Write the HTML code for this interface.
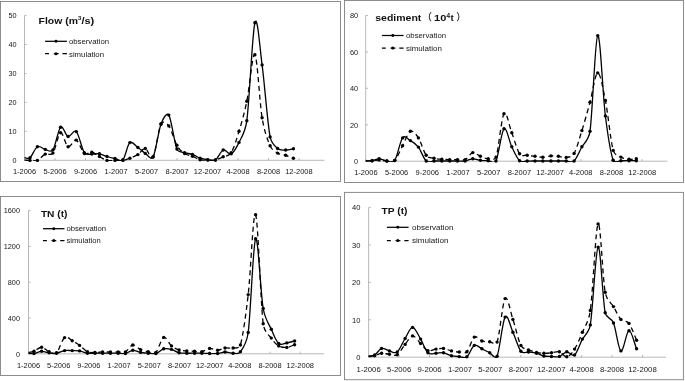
<!DOCTYPE html>
<html><head><meta charset="utf-8"><title>chart</title>
<style>
html,body{margin:0;padding:0;background:#fff}
svg{display:block}
text{font-family:"Liberation Sans","Noto Sans CJK SC",sans-serif;fill:#222}
.ax{font-size:7.9px;fill:#161616}
.lg{font-size:7.7px;fill:#161616}
.tt{font-size:9.7px;font-weight:bold;fill:#111}
.b{fill:#fff;stroke:#878787;stroke-width:0.95}
.a{stroke:#a6a6a6;stroke-width:0.8;fill:none}
.o{stroke:#000;stroke-width:1.3;fill:none;stroke-linejoin:round}
.s{stroke:#000;stroke-width:1.3;fill:none;stroke-dasharray:5 3.7;stroke-linejoin:round}
.m{fill:#000}
</style></head><body>
<svg width="685" height="381" viewBox="0 0 685 381">
<rect width="685" height="381" fill="#fff"/>
<g id="TL">
<rect class="b" x="0.5" y="1.5" width="340.0" height="180.0"/>
<path class="a" d="M24.5 15.6 V160.3 M24.5 160.3 H324.5M24.5 160.3 h2.2M24.5 131.4 h2.2M24.5 102.4 h2.2M24.5 73.5 h2.2M24.5 44.5 h2.2M24.5 15.6 h2.2M24.5 160.3 v-2.2M55.0 160.3 v-2.2M85.5 160.3 v-2.2M116.0 160.3 v-2.2M146.5 160.3 v-2.2M177.0 160.3 v-2.2M207.5 160.3 v-2.2M238.0 160.3 v-2.2M268.5 160.3 v-2.2M299.0 160.3 v-2.2"/>
<text class="ax" x="12.6" y="163.4" textLength="4.0" lengthAdjust="spacingAndGlyphs">0</text>
<text class="ax" x="8.5" y="134.3" textLength="8.1" lengthAdjust="spacingAndGlyphs">10</text>
<text class="ax" x="8.5" y="105.2" textLength="8.1" lengthAdjust="spacingAndGlyphs">20</text>
<text class="ax" x="8.5" y="76.2" textLength="8.1" lengthAdjust="spacingAndGlyphs">30</text>
<text class="ax" x="8.5" y="47.1" textLength="8.1" lengthAdjust="spacingAndGlyphs">40</text>
<text class="ax" x="8.5" y="18.0" textLength="8.1" lengthAdjust="spacingAndGlyphs">50</text>
<text class="ax" x="12.9" y="174.3" textLength="23.2" lengthAdjust="spacingAndGlyphs">1-2006</text>
<text class="ax" x="43.4" y="174.3" textLength="23.2" lengthAdjust="spacingAndGlyphs">5-2006</text>
<text class="ax" x="73.9" y="174.3" textLength="23.2" lengthAdjust="spacingAndGlyphs">9-2006</text>
<text class="ax" x="104.4" y="174.3" textLength="23.2" lengthAdjust="spacingAndGlyphs">1-2007</text>
<text class="ax" x="134.9" y="174.3" textLength="23.2" lengthAdjust="spacingAndGlyphs">5-2007</text>
<text class="ax" x="165.4" y="174.3" textLength="23.2" lengthAdjust="spacingAndGlyphs">8-2007</text>
<text class="ax" x="193.8" y="174.3" textLength="27.5" lengthAdjust="spacingAndGlyphs">12-2007</text>
<text class="ax" x="226.4" y="174.3" textLength="23.2" lengthAdjust="spacingAndGlyphs">4-2008</text>
<text class="ax" x="256.9" y="174.3" textLength="23.2" lengthAdjust="spacingAndGlyphs">8-2008</text>
<text class="ax" x="285.2" y="174.3" textLength="27.5" lengthAdjust="spacingAndGlyphs">12-2008</text>
<clipPath id="cTL"><rect x="24.0" y="7.6" width="300.0" height="153.5"/></clipPath>
<path class="s" clip-path="url(#cTL)" d="M24.5 160.2C26.3 160.3 27.9 160.4 30.0 160.4C32.1 160.4 34.9 161.5 37.4 160.4C39.9 159.3 42.7 155.3 45.3 154.1C47.6 153.0 50.7 156.2 52.9 153.1C55.5 149.6 58.1 133.9 60.6 132.8C63.1 131.8 65.5 145.6 68.1 146.8C70.7 148.0 73.6 139.0 76.3 140.1C79.0 141.2 81.7 151.5 84.3 153.5C86.9 155.5 89.3 151.7 91.8 152.2C94.3 152.7 96.9 155.1 99.4 156.5C101.9 157.9 104.4 159.8 107.0 160.4C109.6 161.1 112.3 160.4 115.0 160.4C117.7 160.4 120.4 160.8 122.9 160.4C125.4 160.0 127.4 159.2 129.9 158.2C132.4 157.2 135.3 156.2 137.9 154.6C140.5 153.0 142.8 148.1 145.3 148.5C147.8 148.9 150.5 160.9 153.1 156.8C155.7 152.7 158.4 129.2 161.0 124.0C162.8 120.4 166.4 122.7 168.8 125.9C171.5 129.5 174.3 140.7 176.9 145.3C179.5 149.9 182.0 151.7 184.6 153.5C187.2 155.3 189.8 155.3 192.4 156.3C195.0 157.3 197.5 159.1 200.1 159.7C202.7 160.3 205.2 159.9 207.8 160.0C210.4 160.1 212.8 160.5 215.4 160.0C218.0 159.5 220.6 158.0 223.2 156.8C225.6 155.7 228.8 156.4 231.2 152.6C233.8 148.3 236.4 139.9 239.0 131.3C241.6 122.7 244.2 114.0 246.8 101.2C249.5 88.5 252.3 52.0 254.9 54.8C257.4 57.5 259.6 102.6 262.1 117.7C264.5 132.1 267.7 140.1 270.1 145.7C272.2 150.5 275.5 151.8 277.6 153.1C280.2 154.7 283.1 154.5 285.7 155.3C288.3 156.2 290.8 157.2 293.4 158.2"/>
<g class="m"><circle cx="30.0" cy="160.4" r="1.7"/><circle cx="37.4" cy="160.4" r="1.7"/><circle cx="45.3" cy="154.1" r="1.7"/><circle cx="52.9" cy="153.1" r="1.7"/><circle cx="60.6" cy="132.8" r="1.7"/><circle cx="68.1" cy="146.8" r="1.7"/><circle cx="76.3" cy="140.1" r="1.7"/><circle cx="84.3" cy="153.5" r="1.7"/><circle cx="91.8" cy="152.2" r="1.7"/><circle cx="99.4" cy="156.5" r="1.7"/><circle cx="107.0" cy="160.4" r="1.7"/><circle cx="115.0" cy="160.4" r="1.7"/><circle cx="122.9" cy="160.4" r="1.7"/><circle cx="129.9" cy="158.2" r="1.7"/><circle cx="137.9" cy="154.6" r="1.7"/><circle cx="145.3" cy="148.5" r="1.7"/><circle cx="153.1" cy="156.8" r="1.7"/><circle cx="161.0" cy="124.0" r="1.7"/><circle cx="168.8" cy="125.9" r="1.7"/><circle cx="176.9" cy="145.3" r="1.7"/><circle cx="184.6" cy="153.5" r="1.7"/><circle cx="192.4" cy="156.3" r="1.7"/><circle cx="200.1" cy="159.7" r="1.7"/><circle cx="207.8" cy="160.0" r="1.7"/><circle cx="215.4" cy="160.0" r="1.7"/><circle cx="223.2" cy="156.8" r="1.7"/><circle cx="231.2" cy="152.6" r="1.7"/><circle cx="239.0" cy="131.3" r="1.7"/><circle cx="246.8" cy="101.2" r="1.7"/><circle cx="254.9" cy="54.8" r="1.7"/><circle cx="262.1" cy="117.7" r="1.7"/><circle cx="270.1" cy="145.7" r="1.7"/><circle cx="277.6" cy="153.1" r="1.7"/><circle cx="285.7" cy="155.3" r="1.7"/><circle cx="293.4" cy="158.2" r="1.7"/></g>
<path class="o" clip-path="url(#cTL)" d="M24.5 157.6C25.4 157.6 27.9 159.6 30.0 157.8C32.1 156.0 34.9 148.1 37.4 146.7C39.9 145.3 42.7 148.8 45.3 149.4C47.5 149.9 50.7 153.1 52.9 150.0C55.5 146.3 58.1 129.4 60.6 127.2C63.1 125.0 65.5 135.8 68.1 136.5C70.7 137.2 73.6 128.9 76.3 131.6C79.0 134.3 81.7 148.8 84.3 152.6C86.5 155.7 89.7 153.9 91.8 154.1C94.3 154.3 96.9 153.4 99.4 153.8C101.9 154.2 104.4 155.7 107.0 156.5C109.6 157.3 112.3 158.0 115.0 158.5C117.7 159.0 120.4 162.3 122.9 159.7C125.4 157.0 127.4 144.6 129.9 142.6C132.4 140.6 135.3 145.7 137.9 147.5C140.5 149.3 142.8 151.8 145.3 153.4C147.3 154.6 151.1 160.8 153.1 157.0C155.7 152.1 158.4 131.0 161.0 124.0C163.1 118.5 166.7 111.8 168.8 115.1C171.5 119.3 174.3 142.8 176.9 149.0C178.6 152.9 183.0 152.0 184.6 152.6C187.2 153.5 189.8 153.5 192.4 154.4C195.0 155.3 197.5 157.3 200.1 158.2C202.7 159.1 205.2 159.4 207.8 159.7C210.4 160.0 212.8 161.6 215.4 160.0C218.0 158.4 220.6 151.0 223.2 150.0C225.8 149.0 228.6 155.1 231.2 153.8C233.8 152.5 236.4 147.9 239.0 142.4C240.5 139.3 245.3 132.2 246.8 120.8C249.5 100.9 252.3 32.1 254.9 22.8C257.4 13.5 259.6 45.9 262.1 64.9C264.6 83.9 267.5 123.0 270.1 136.9C271.4 143.7 276.3 147.4 277.6 148.5C280.2 150.7 283.1 149.9 285.7 150.0C288.3 150.1 290.8 149.2 293.4 148.8"/>
<g class="m"><circle cx="30.0" cy="157.8" r="1.7"/><circle cx="37.4" cy="146.7" r="1.7"/><circle cx="45.3" cy="149.4" r="1.7"/><circle cx="52.9" cy="150.0" r="1.7"/><circle cx="60.6" cy="127.2" r="1.7"/><circle cx="68.1" cy="136.5" r="1.7"/><circle cx="76.3" cy="131.6" r="1.7"/><circle cx="84.3" cy="152.6" r="1.7"/><circle cx="91.8" cy="154.1" r="1.7"/><circle cx="99.4" cy="153.8" r="1.7"/><circle cx="107.0" cy="156.5" r="1.7"/><circle cx="115.0" cy="158.5" r="1.7"/><circle cx="122.9" cy="159.7" r="1.7"/><circle cx="129.9" cy="142.6" r="1.7"/><circle cx="137.9" cy="147.5" r="1.7"/><circle cx="145.3" cy="153.4" r="1.7"/><circle cx="153.1" cy="157.0" r="1.7"/><circle cx="161.0" cy="124.0" r="1.7"/><circle cx="168.8" cy="115.1" r="1.7"/><circle cx="176.9" cy="149.0" r="1.7"/><circle cx="184.6" cy="152.6" r="1.7"/><circle cx="192.4" cy="154.4" r="1.7"/><circle cx="200.1" cy="158.2" r="1.7"/><circle cx="207.8" cy="159.7" r="1.7"/><circle cx="215.4" cy="160.0" r="1.7"/><circle cx="223.2" cy="150.0" r="1.7"/><circle cx="231.2" cy="153.8" r="1.7"/><circle cx="239.0" cy="142.4" r="1.7"/><circle cx="246.8" cy="120.8" r="1.7"/><circle cx="254.9" cy="22.8" r="1.7"/><circle cx="262.1" cy="64.9" r="1.7"/><circle cx="270.1" cy="136.9" r="1.7"/><circle cx="277.6" cy="148.5" r="1.7"/><circle cx="285.7" cy="150.0" r="1.7"/><circle cx="293.4" cy="148.8" r="1.7"/></g>
</g>
<g id="TR">
<rect class="b" x="344.5" y="0.5" width="339.0" height="182.0"/>
<path class="a" d="M365.7 15.5 V161.2 M365.7 161.2 H667.6M365.7 161.2 h2.2M365.7 124.8 h2.2M365.7 88.3 h2.2M365.7 51.9 h2.2M365.7 15.5 h2.2M365.9 161.2 v-2.2M396.6 161.2 v-2.2M427.3 161.2 v-2.2M458.0 161.2 v-2.2M488.7 161.2 v-2.2M519.4 161.2 v-2.2M550.1 161.2 v-2.2M580.8 161.2 v-2.2M611.5 161.2 v-2.2M642.2 161.2 v-2.2"/>
<text class="ax" x="354.1" y="164.2" textLength="4.0" lengthAdjust="spacingAndGlyphs">0</text>
<text class="ax" x="349.9" y="127.7" textLength="8.2" lengthAdjust="spacingAndGlyphs">20</text>
<text class="ax" x="349.9" y="91.1" textLength="8.2" lengthAdjust="spacingAndGlyphs">40</text>
<text class="ax" x="349.9" y="54.5" textLength="8.2" lengthAdjust="spacingAndGlyphs">60</text>
<text class="ax" x="349.9" y="17.9" textLength="8.2" lengthAdjust="spacingAndGlyphs">80</text>
<text class="ax" x="354.2" y="174.7" textLength="23.4" lengthAdjust="spacingAndGlyphs">1-2006</text>
<text class="ax" x="384.9" y="174.7" textLength="23.4" lengthAdjust="spacingAndGlyphs">5-2006</text>
<text class="ax" x="415.6" y="174.7" textLength="23.4" lengthAdjust="spacingAndGlyphs">9-2006</text>
<text class="ax" x="446.3" y="174.7" textLength="23.4" lengthAdjust="spacingAndGlyphs">1-2007</text>
<text class="ax" x="477.0" y="174.7" textLength="23.4" lengthAdjust="spacingAndGlyphs">5-2007</text>
<text class="ax" x="507.7" y="174.7" textLength="23.4" lengthAdjust="spacingAndGlyphs">8-2007</text>
<text class="ax" x="536.2" y="174.7" textLength="27.8" lengthAdjust="spacingAndGlyphs">12-2007</text>
<text class="ax" x="569.1" y="174.7" textLength="23.4" lengthAdjust="spacingAndGlyphs">4-2008</text>
<text class="ax" x="599.8" y="174.7" textLength="23.4" lengthAdjust="spacingAndGlyphs">8-2008</text>
<text class="ax" x="628.3" y="174.7" textLength="27.8" lengthAdjust="spacingAndGlyphs">12-2008</text>
<clipPath id="cTR"><rect x="365.2" y="7.5" width="301.9" height="154.4"/></clipPath>
<path class="s" clip-path="url(#cTR)" d="M365.7 161.0C367.8 160.9 369.9 160.9 372.1 160.7C374.3 160.5 376.6 159.9 379.1 160.0C381.6 160.1 384.3 160.9 386.9 161.0C389.5 161.1 392.1 163.1 394.7 160.5C397.3 157.9 400.0 150.6 402.6 145.7C405.2 140.8 407.8 132.6 410.4 131.3C413.0 130.0 415.8 133.9 418.4 137.9C421.0 141.9 423.6 151.9 426.2 155.3C428.7 158.6 431.5 157.5 434.0 158.2C436.6 158.9 439.2 159.1 441.8 159.3C444.4 159.5 447.1 159.6 449.7 159.6C452.3 159.6 454.8 159.6 457.4 159.6C460.0 159.6 462.5 160.8 465.1 159.6C467.7 158.4 470.2 153.1 472.8 152.6C475.4 152.1 477.8 155.3 480.4 156.3C483.0 157.3 485.6 158.7 488.2 158.8C489.5 158.9 494.7 160.9 496.0 157.1C498.6 149.6 501.4 117.8 504.0 113.7C506.6 109.7 509.2 126.1 511.8 132.8C514.4 139.5 517.0 150.1 519.6 153.8C521.8 157.0 525.0 154.9 527.2 155.3C529.8 155.7 532.4 156.0 535.0 156.3C537.6 156.6 540.1 157.3 542.8 157.2C545.5 157.1 548.4 156.1 551.0 155.9C553.6 155.8 555.9 156.1 558.4 156.3C560.9 156.6 563.6 157.9 566.2 157.4C568.4 157.0 571.9 157.2 574.1 153.4C576.7 148.9 579.2 139.1 581.9 130.6C584.5 122.1 587.4 111.9 590.0 102.3C592.6 92.7 595.1 73.2 597.7 72.9C600.3 72.6 602.8 87.6 605.4 100.5C608.0 113.4 610.6 141.0 613.2 150.4C614.5 155.3 619.5 156.3 620.9 157.1C623.5 158.6 626.4 159.0 629.0 159.3C631.6 159.6 633.9 159.0 636.3 158.8"/>
<g class="m"><circle cx="372.1" cy="160.7" r="1.7"/><circle cx="379.1" cy="160.0" r="1.7"/><circle cx="386.9" cy="161.0" r="1.7"/><circle cx="394.7" cy="160.5" r="1.7"/><circle cx="402.6" cy="145.7" r="1.7"/><circle cx="410.4" cy="131.3" r="1.7"/><circle cx="418.4" cy="137.9" r="1.7"/><circle cx="426.2" cy="155.3" r="1.7"/><circle cx="434.0" cy="158.2" r="1.7"/><circle cx="441.8" cy="159.3" r="1.7"/><circle cx="449.7" cy="159.6" r="1.7"/><circle cx="457.4" cy="159.6" r="1.7"/><circle cx="465.1" cy="159.6" r="1.7"/><circle cx="472.8" cy="152.6" r="1.7"/><circle cx="480.4" cy="156.3" r="1.7"/><circle cx="488.2" cy="158.8" r="1.7"/><circle cx="496.0" cy="157.1" r="1.7"/><circle cx="504.0" cy="113.7" r="1.7"/><circle cx="511.8" cy="132.8" r="1.7"/><circle cx="519.6" cy="153.8" r="1.7"/><circle cx="527.2" cy="155.3" r="1.7"/><circle cx="535.0" cy="156.3" r="1.7"/><circle cx="542.8" cy="157.2" r="1.7"/><circle cx="551.0" cy="155.9" r="1.7"/><circle cx="558.4" cy="156.3" r="1.7"/><circle cx="566.2" cy="157.4" r="1.7"/><circle cx="574.1" cy="153.4" r="1.7"/><circle cx="581.9" cy="130.6" r="1.7"/><circle cx="590.0" cy="102.3" r="1.7"/><circle cx="597.7" cy="72.9" r="1.7"/><circle cx="605.4" cy="100.5" r="1.7"/><circle cx="613.2" cy="150.4" r="1.7"/><circle cx="620.9" cy="157.1" r="1.7"/><circle cx="629.0" cy="159.3" r="1.7"/><circle cx="636.3" cy="158.8" r="1.7"/></g>
<path class="o" clip-path="url(#cTR)" d="M365.7 161.0C367.8 160.9 369.9 161.1 372.1 160.7C374.3 160.3 376.6 158.8 379.1 158.8C381.6 158.9 384.3 160.7 386.9 161.0C389.1 161.2 392.5 163.7 394.7 160.5C397.3 156.7 400.0 141.2 402.6 137.9C405.2 134.7 407.8 139.1 410.4 140.6C413.0 142.1 415.8 143.7 418.4 147.1C421.0 150.5 423.6 158.7 426.2 161.0C428.8 163.3 431.4 161.0 434.0 161.0C436.6 161.0 439.2 161.0 441.8 161.0C444.4 161.0 447.1 161.0 449.7 161.0C452.3 161.0 454.8 161.0 457.4 161.0C460.0 161.0 462.5 161.4 465.1 161.0C467.7 160.6 470.2 158.9 472.8 158.8C475.4 158.7 477.8 160.0 480.4 160.3C483.0 160.6 485.6 160.6 488.2 160.7C489.9 160.8 494.3 164.5 496.0 161.0C498.6 155.7 501.4 131.2 504.0 128.8C506.6 126.4 509.2 141.5 511.8 146.8C514.4 152.1 517.0 158.3 519.6 160.7C522.2 163.1 524.6 160.9 527.2 161.0C529.8 161.1 532.4 161.0 535.0 161.0C537.6 161.0 540.1 161.0 542.8 161.0C545.5 161.0 548.4 161.0 551.0 161.0C553.6 161.0 555.9 161.0 558.4 161.0C560.9 161.0 563.6 161.0 566.2 161.0C568.8 161.0 571.5 163.4 574.1 161.0C576.7 158.6 579.2 151.8 581.9 146.8C583.1 144.5 588.8 140.0 590.0 131.3C592.6 112.8 595.1 38.2 597.7 35.6C600.3 33.0 602.8 95.2 605.4 116.0C608.0 136.8 610.6 152.9 613.2 160.3C614.5 163.9 619.6 160.7 620.9 160.7C623.5 160.8 626.4 160.7 629.0 160.7C631.6 160.7 633.9 160.7 636.3 160.7"/>
<g class="m"><circle cx="372.1" cy="160.7" r="1.7"/><circle cx="379.1" cy="158.8" r="1.7"/><circle cx="386.9" cy="161.0" r="1.7"/><circle cx="394.7" cy="160.5" r="1.7"/><circle cx="402.6" cy="137.9" r="1.7"/><circle cx="410.4" cy="140.6" r="1.7"/><circle cx="418.4" cy="147.1" r="1.7"/><circle cx="426.2" cy="161.0" r="1.7"/><circle cx="434.0" cy="161.0" r="1.7"/><circle cx="441.8" cy="161.0" r="1.7"/><circle cx="449.7" cy="161.0" r="1.7"/><circle cx="457.4" cy="161.0" r="1.7"/><circle cx="465.1" cy="161.0" r="1.7"/><circle cx="472.8" cy="158.8" r="1.7"/><circle cx="480.4" cy="160.3" r="1.7"/><circle cx="488.2" cy="160.7" r="1.7"/><circle cx="496.0" cy="161.0" r="1.7"/><circle cx="504.0" cy="128.8" r="1.7"/><circle cx="511.8" cy="146.8" r="1.7"/><circle cx="519.6" cy="160.7" r="1.7"/><circle cx="527.2" cy="161.0" r="1.7"/><circle cx="535.0" cy="161.0" r="1.7"/><circle cx="542.8" cy="161.0" r="1.7"/><circle cx="551.0" cy="161.0" r="1.7"/><circle cx="558.4" cy="161.0" r="1.7"/><circle cx="566.2" cy="161.0" r="1.7"/><circle cx="574.1" cy="161.0" r="1.7"/><circle cx="581.9" cy="146.8" r="1.7"/><circle cx="590.0" cy="131.3" r="1.7"/><circle cx="597.7" cy="35.6" r="1.7"/><circle cx="605.4" cy="116.0" r="1.7"/><circle cx="613.2" cy="160.3" r="1.7"/><circle cx="620.9" cy="160.7" r="1.7"/><circle cx="629.0" cy="160.7" r="1.7"/><circle cx="636.3" cy="160.7" r="1.7"/></g>
</g>
<g id="BL">
<rect class="b" x="0.5" y="196.5" width="340.0" height="179.0"/>
<path class="a" d="M28.5 210.6 V353.8 M28.5 353.8 H324.0M28.5 353.8 h2.2M28.5 318.0 h2.2M28.5 282.2 h2.2M28.5 246.4 h2.2M28.5 210.6 h2.2M28.5 353.8 v-2.2M58.7 353.8 v-2.2M88.9 353.8 v-2.2M119.1 353.8 v-2.2M149.3 353.8 v-2.2M179.5 353.8 v-2.2M209.6 353.8 v-2.2M239.8 353.8 v-2.2M270.0 353.8 v-2.2M300.2 353.8 v-2.2"/>
<text class="ax" x="16.0" y="356.9" textLength="4.0" lengthAdjust="spacingAndGlyphs">0</text>
<text class="ax" x="7.8" y="320.9" textLength="12.2" lengthAdjust="spacingAndGlyphs">400</text>
<text class="ax" x="7.8" y="284.9" textLength="12.2" lengthAdjust="spacingAndGlyphs">800</text>
<text class="ax" x="3.7" y="249.0" textLength="16.3" lengthAdjust="spacingAndGlyphs">1200</text>
<text class="ax" x="3.7" y="213.1" textLength="16.3" lengthAdjust="spacingAndGlyphs">1600</text>
<text class="ax" x="16.9" y="368.0" textLength="23.2" lengthAdjust="spacingAndGlyphs">1-2006</text>
<text class="ax" x="47.1" y="368.0" textLength="23.2" lengthAdjust="spacingAndGlyphs">5-2006</text>
<text class="ax" x="77.3" y="368.0" textLength="23.2" lengthAdjust="spacingAndGlyphs">9-2006</text>
<text class="ax" x="107.5" y="368.0" textLength="23.2" lengthAdjust="spacingAndGlyphs">1-2007</text>
<text class="ax" x="137.7" y="368.0" textLength="23.2" lengthAdjust="spacingAndGlyphs">5-2007</text>
<text class="ax" x="167.9" y="368.0" textLength="23.2" lengthAdjust="spacingAndGlyphs">8-2007</text>
<text class="ax" x="195.9" y="368.0" textLength="27.5" lengthAdjust="spacingAndGlyphs">12-2007</text>
<text class="ax" x="228.2" y="368.0" textLength="23.2" lengthAdjust="spacingAndGlyphs">4-2008</text>
<text class="ax" x="258.4" y="368.0" textLength="23.2" lengthAdjust="spacingAndGlyphs">8-2008</text>
<text class="ax" x="286.5" y="368.0" textLength="27.5" lengthAdjust="spacingAndGlyphs">12-2008</text>
<clipPath id="cBL"><rect x="28.0" y="202.6" width="295.5" height="152.0"/></clipPath>
<path class="s" clip-path="url(#cBL)" d="M28.5 352.5C30.3 352.1 31.8 352.2 34.0 351.3C36.2 350.4 39.1 347.1 41.6 347.2C44.1 347.3 46.6 350.9 49.1 351.8C51.6 352.7 53.9 355.2 56.5 352.8C59.1 350.4 62.0 339.6 64.6 337.6C67.2 335.6 69.7 339.4 72.2 340.7C74.7 342.0 77.1 343.5 79.6 345.4C82.1 347.2 84.8 350.6 87.4 351.8C90.0 353.0 92.5 352.4 95.0 352.4C97.5 352.4 100.0 352.1 102.6 352.0C105.2 351.9 107.8 352.0 110.4 352.0C113.0 352.0 115.7 352.0 118.2 352.0C120.7 352.0 123.0 353.2 125.4 352.0C127.8 350.8 130.3 345.4 132.8 345.0C135.3 344.6 138.0 348.5 140.6 349.6C143.2 350.7 145.6 351.3 148.2 351.8C150.8 352.3 153.3 354.8 155.9 352.4C158.5 350.0 161.1 338.5 163.7 337.4C166.3 336.3 168.9 343.8 171.5 345.9C174.1 348.0 176.5 349.1 179.1 349.9C181.7 350.7 184.2 350.7 186.8 350.9C189.4 351.1 192.1 351.1 194.6 351.3C197.1 351.5 199.4 352.3 201.9 351.8C204.4 351.3 207.0 348.6 209.6 348.4C212.2 348.1 215.0 350.4 217.6 350.3C220.2 350.2 222.4 348.4 225.0 348.0C227.6 347.6 230.5 348.5 233.1 348.0C234.2 347.8 239.3 348.8 240.4 345.0C242.9 336.1 245.7 316.3 248.2 294.6C250.7 272.9 253.1 209.8 255.6 214.7C258.1 219.6 260.6 303.2 263.2 323.8C264.2 332.0 270.3 336.6 271.3 338.1C273.9 341.8 276.1 344.3 278.7 345.9C281.3 347.4 284.1 347.6 286.8 347.4C289.5 347.2 292.0 345.6 294.6 344.7"/>
<g class="m"><circle cx="34.0" cy="351.3" r="1.7"/><circle cx="41.6" cy="347.2" r="1.7"/><circle cx="49.1" cy="351.8" r="1.7"/><circle cx="56.5" cy="352.8" r="1.7"/><circle cx="64.6" cy="337.6" r="1.7"/><circle cx="72.2" cy="340.7" r="1.7"/><circle cx="79.6" cy="345.4" r="1.7"/><circle cx="87.4" cy="351.8" r="1.7"/><circle cx="95.0" cy="352.4" r="1.7"/><circle cx="102.6" cy="352.0" r="1.7"/><circle cx="110.4" cy="352.0" r="1.7"/><circle cx="118.2" cy="352.0" r="1.7"/><circle cx="125.4" cy="352.0" r="1.7"/><circle cx="132.8" cy="345.0" r="1.7"/><circle cx="140.6" cy="349.6" r="1.7"/><circle cx="148.2" cy="351.8" r="1.7"/><circle cx="155.9" cy="352.4" r="1.7"/><circle cx="163.7" cy="337.4" r="1.7"/><circle cx="171.5" cy="345.9" r="1.7"/><circle cx="179.1" cy="349.9" r="1.7"/><circle cx="186.8" cy="350.9" r="1.7"/><circle cx="194.6" cy="351.3" r="1.7"/><circle cx="201.9" cy="351.8" r="1.7"/><circle cx="209.6" cy="348.4" r="1.7"/><circle cx="217.6" cy="350.3" r="1.7"/><circle cx="225.0" cy="348.0" r="1.7"/><circle cx="233.1" cy="348.0" r="1.7"/><circle cx="240.4" cy="345.0" r="1.7"/><circle cx="248.2" cy="294.6" r="1.7"/><circle cx="255.6" cy="214.7" r="1.7"/><circle cx="263.2" cy="323.8" r="1.7"/><circle cx="271.3" cy="338.1" r="1.7"/><circle cx="278.7" cy="345.9" r="1.7"/><circle cx="286.8" cy="347.4" r="1.7"/><circle cx="294.6" cy="344.7" r="1.7"/></g>
<path class="o" clip-path="url(#cBL)" d="M28.5 353.5C30.3 353.5 31.8 353.9 34.0 353.5C36.2 353.1 39.1 351.4 41.6 351.3C44.1 351.2 46.6 352.5 49.1 352.8C51.6 353.1 53.9 353.6 56.5 353.2C59.1 352.8 62.0 351.0 64.6 350.6C67.2 350.2 69.7 350.6 72.2 350.6C74.7 350.7 77.1 350.5 79.6 350.9C82.1 351.3 84.8 352.8 87.4 353.2C90.0 353.6 92.5 353.2 95.0 353.2C97.5 353.2 100.0 353.2 102.6 353.2C105.2 353.2 107.8 353.2 110.4 353.2C113.0 353.2 115.7 353.1 118.2 353.2C120.7 353.2 123.0 354.0 125.4 353.5C127.8 353.0 130.3 350.5 132.8 350.3C135.3 350.1 138.0 351.9 140.6 352.4C143.2 352.9 145.6 353.0 148.2 353.2C150.8 353.4 153.3 354.2 155.9 353.5C158.5 352.8 161.1 349.5 163.7 348.8C166.3 348.1 168.9 348.7 171.5 349.4C174.1 350.1 176.5 352.2 179.1 352.8C181.7 353.4 184.2 353.1 186.8 353.2C189.4 353.3 192.1 353.2 194.6 353.2C197.1 353.2 199.4 353.1 201.9 353.2C204.4 353.2 207.0 353.4 209.6 353.5C212.2 353.6 215.0 353.8 217.6 353.5C220.2 353.2 222.4 352.1 225.0 352.0C227.6 351.9 230.5 353.2 233.1 353.2C235.3 353.2 238.2 354.8 240.4 351.8C241.8 349.9 246.8 342.8 248.2 332.5C250.7 313.7 253.1 242.8 255.6 238.8C258.1 234.8 260.6 293.4 263.2 308.5C265.1 319.5 269.4 325.0 271.3 329.3C273.9 335.1 276.1 341.2 278.7 343.5C281.3 345.8 284.1 343.3 286.8 342.9C289.5 342.5 292.0 341.6 294.6 341.0"/>
<g class="m"><circle cx="34.0" cy="353.5" r="1.7"/><circle cx="41.6" cy="351.3" r="1.7"/><circle cx="49.1" cy="352.8" r="1.7"/><circle cx="56.5" cy="353.2" r="1.7"/><circle cx="64.6" cy="350.6" r="1.7"/><circle cx="72.2" cy="350.6" r="1.7"/><circle cx="79.6" cy="350.9" r="1.7"/><circle cx="87.4" cy="353.2" r="1.7"/><circle cx="95.0" cy="353.2" r="1.7"/><circle cx="102.6" cy="353.2" r="1.7"/><circle cx="110.4" cy="353.2" r="1.7"/><circle cx="118.2" cy="353.2" r="1.7"/><circle cx="125.4" cy="353.5" r="1.7"/><circle cx="132.8" cy="350.3" r="1.7"/><circle cx="140.6" cy="352.4" r="1.7"/><circle cx="148.2" cy="353.2" r="1.7"/><circle cx="155.9" cy="353.5" r="1.7"/><circle cx="163.7" cy="348.8" r="1.7"/><circle cx="171.5" cy="349.4" r="1.7"/><circle cx="179.1" cy="352.8" r="1.7"/><circle cx="186.8" cy="353.2" r="1.7"/><circle cx="194.6" cy="353.2" r="1.7"/><circle cx="201.9" cy="353.2" r="1.7"/><circle cx="209.6" cy="353.5" r="1.7"/><circle cx="217.6" cy="353.5" r="1.7"/><circle cx="225.0" cy="352.0" r="1.7"/><circle cx="233.1" cy="353.2" r="1.7"/><circle cx="240.4" cy="351.8" r="1.7"/><circle cx="248.2" cy="332.5" r="1.7"/><circle cx="255.6" cy="238.8" r="1.7"/><circle cx="263.2" cy="308.5" r="1.7"/><circle cx="271.3" cy="329.3" r="1.7"/><circle cx="278.7" cy="343.5" r="1.7"/><circle cx="286.8" cy="342.9" r="1.7"/><circle cx="294.6" cy="341.0" r="1.7"/></g>
</g>
<g id="BR">
<rect class="b" x="344.5" y="192.4" width="338.9" height="187.3"/>
<path class="a" d="M368.6 207.6 V357.2 M368.6 357.2 H666.0M368.6 357.2 h2.2M368.6 319.8 h2.2M368.6 282.4 h2.2M368.6 245.0 h2.2M368.6 207.6 h2.2M368.7 357.2 v-2.2M399.1 357.2 v-2.2M429.5 357.2 v-2.2M460.0 357.2 v-2.2M490.4 357.2 v-2.2M520.8 357.2 v-2.2M551.2 357.2 v-2.2M581.6 357.2 v-2.2M612.1 357.2 v-2.2M642.5 357.2 v-2.2"/>
<text class="ax" x="356.3" y="360.2" textLength="4.2" lengthAdjust="spacingAndGlyphs">0</text>
<text class="ax" x="352.1" y="322.7" textLength="8.4" lengthAdjust="spacingAndGlyphs">10</text>
<text class="ax" x="352.1" y="285.1" textLength="8.4" lengthAdjust="spacingAndGlyphs">20</text>
<text class="ax" x="352.1" y="247.6" textLength="8.4" lengthAdjust="spacingAndGlyphs">30</text>
<text class="ax" x="352.1" y="210.1" textLength="8.4" lengthAdjust="spacingAndGlyphs">40</text>
<text class="ax" x="356.6" y="371.7" textLength="24.1" lengthAdjust="spacingAndGlyphs">1-2006</text>
<text class="ax" x="387.1" y="371.7" textLength="24.1" lengthAdjust="spacingAndGlyphs">5-2006</text>
<text class="ax" x="417.5" y="371.7" textLength="24.1" lengthAdjust="spacingAndGlyphs">9-2006</text>
<text class="ax" x="447.9" y="371.7" textLength="24.1" lengthAdjust="spacingAndGlyphs">1-2007</text>
<text class="ax" x="478.3" y="371.7" textLength="24.1" lengthAdjust="spacingAndGlyphs">5-2007</text>
<text class="ax" x="508.7" y="371.7" textLength="24.1" lengthAdjust="spacingAndGlyphs">8-2007</text>
<text class="ax" x="536.9" y="371.7" textLength="28.6" lengthAdjust="spacingAndGlyphs">12-2007</text>
<text class="ax" x="569.6" y="371.7" textLength="24.1" lengthAdjust="spacingAndGlyphs">4-2008</text>
<text class="ax" x="600.0" y="371.7" textLength="24.1" lengthAdjust="spacingAndGlyphs">8-2008</text>
<text class="ax" x="628.2" y="371.7" textLength="28.6" lengthAdjust="spacingAndGlyphs">12-2008</text>
<clipPath id="cBR"><rect x="368.1" y="199.6" width="297.4" height="158.3"/></clipPath>
<path class="s" clip-path="url(#cBR)" d="M368.6 356.5C370.6 356.2 372.5 356.2 374.7 355.7C376.9 355.1 379.2 353.4 381.6 353.2C384.1 353.0 386.8 354.1 389.4 354.3C392.0 354.6 394.6 356.4 397.2 354.7C399.8 353.0 402.5 347.5 405.1 344.4C407.7 341.3 410.0 336.0 412.6 335.9C415.2 335.8 418.1 341.1 420.6 343.5C423.2 345.9 425.3 349.7 427.9 350.6C430.5 351.5 433.4 349.5 436.0 349.1C438.6 348.7 440.9 348.1 443.5 348.4C446.1 348.7 448.9 350.3 451.5 350.9C454.1 351.5 456.6 351.9 459.2 352.0C461.8 352.1 464.4 354.3 466.9 351.8C469.4 349.3 471.8 338.9 474.3 337.1C476.8 335.3 479.3 340.2 481.9 341.0C484.5 341.8 487.2 341.6 489.7 341.8C490.9 341.9 495.9 345.6 497.1 342.1C499.7 334.9 502.5 302.4 505.1 298.6C507.7 294.8 510.3 311.6 512.9 319.4C515.5 327.2 518.3 340.3 520.9 345.4C522.9 349.3 526.4 349.0 528.4 349.9C531.0 351.1 533.9 351.8 536.5 352.4C539.1 353.0 541.4 353.2 543.9 353.3C546.4 353.4 548.9 353.1 551.5 352.8C554.1 352.6 556.9 351.1 559.4 351.8C561.9 352.5 564.3 357.2 566.8 356.8C569.3 356.4 572.0 353.2 574.6 349.1C577.2 345.0 579.8 338.6 582.4 332.2C584.1 328.1 588.6 321.9 590.3 310.5C592.9 292.4 595.6 227.0 598.1 223.9C600.6 220.8 602.6 278.4 605.2 292.2C606.7 300.4 611.9 303.9 613.5 306.6C616.1 311.1 618.3 316.6 620.9 319.4C623.5 322.2 626.4 319.9 629.0 323.4C631.6 326.9 634.1 334.7 636.6 340.3"/>
<g class="m"><circle cx="374.7" cy="355.7" r="1.7"/><circle cx="381.6" cy="353.2" r="1.7"/><circle cx="389.4" cy="354.3" r="1.7"/><circle cx="397.2" cy="354.7" r="1.7"/><circle cx="405.1" cy="344.4" r="1.7"/><circle cx="412.6" cy="335.9" r="1.7"/><circle cx="420.6" cy="343.5" r="1.7"/><circle cx="427.9" cy="350.6" r="1.7"/><circle cx="436.0" cy="349.1" r="1.7"/><circle cx="443.5" cy="348.4" r="1.7"/><circle cx="451.5" cy="350.9" r="1.7"/><circle cx="459.2" cy="352.0" r="1.7"/><circle cx="466.9" cy="351.8" r="1.7"/><circle cx="474.3" cy="337.1" r="1.7"/><circle cx="481.9" cy="341.0" r="1.7"/><circle cx="489.7" cy="341.8" r="1.7"/><circle cx="497.1" cy="342.1" r="1.7"/><circle cx="505.1" cy="298.6" r="1.7"/><circle cx="512.9" cy="319.4" r="1.7"/><circle cx="520.9" cy="345.4" r="1.7"/><circle cx="528.4" cy="349.9" r="1.7"/><circle cx="536.5" cy="352.4" r="1.7"/><circle cx="543.9" cy="353.3" r="1.7"/><circle cx="551.5" cy="352.8" r="1.7"/><circle cx="559.4" cy="351.8" r="1.7"/><circle cx="566.8" cy="356.8" r="1.7"/><circle cx="574.6" cy="349.1" r="1.7"/><circle cx="582.4" cy="332.2" r="1.7"/><circle cx="590.3" cy="310.5" r="1.7"/><circle cx="598.1" cy="223.9" r="1.7"/><circle cx="605.2" cy="292.2" r="1.7"/><circle cx="613.5" cy="306.6" r="1.7"/><circle cx="620.9" cy="319.4" r="1.7"/><circle cx="629.0" cy="323.4" r="1.7"/><circle cx="636.6" cy="340.3" r="1.7"/></g>
<path class="o" clip-path="url(#cBR)" d="M368.6 356.0C370.6 355.7 372.5 356.3 374.7 355.0C376.9 353.7 379.2 349.1 381.6 348.4C384.1 347.7 386.8 350.3 389.4 350.9C392.0 351.5 394.6 354.1 397.2 352.0C399.8 349.9 402.5 342.6 405.1 338.5C407.7 334.4 410.0 327.3 412.6 327.4C415.2 327.5 418.1 334.9 420.6 339.1C423.2 343.3 425.3 350.5 427.9 352.8C430.5 355.1 433.4 353.2 436.0 353.2C438.6 353.2 440.9 352.4 443.5 352.8C446.1 353.2 448.9 355.1 451.5 355.7C454.1 356.3 456.6 356.4 459.2 356.6C461.8 356.8 464.4 358.7 466.9 356.8C469.4 354.9 471.8 346.7 474.3 345.4C476.8 344.1 479.3 347.6 481.9 348.8C484.5 350.0 487.2 351.6 489.7 352.8C491.3 353.6 495.5 359.9 497.1 356.2C499.7 350.2 502.5 321.1 505.1 317.1C507.7 313.1 510.3 326.5 512.9 332.2C515.5 337.9 518.3 348.0 520.9 351.3C523.2 354.3 526.1 351.7 528.4 352.0C531.0 352.3 533.9 352.5 536.5 353.2C539.1 353.9 541.4 355.4 543.9 356.0C546.4 356.6 548.9 356.4 551.5 356.5C554.1 356.6 556.9 357.3 559.4 356.5C561.9 355.7 564.3 352.1 566.8 351.8C569.3 351.6 572.0 357.1 574.6 355.0C577.2 352.9 579.8 344.1 582.4 339.1C583.8 336.5 588.9 332.9 590.3 324.9C592.9 309.6 595.6 249.1 598.1 247.1C600.6 245.1 602.6 300.1 605.2 312.7C606.5 319.2 611.0 316.9 613.5 323.0C616.1 329.4 618.3 349.6 620.9 350.9C623.5 352.2 626.4 331.0 629.0 330.7C631.6 330.4 634.1 342.8 636.6 348.8"/>
<g class="m"><circle cx="374.7" cy="355.0" r="1.7"/><circle cx="381.6" cy="348.4" r="1.7"/><circle cx="389.4" cy="350.9" r="1.7"/><circle cx="397.2" cy="352.0" r="1.7"/><circle cx="405.1" cy="338.5" r="1.7"/><circle cx="412.6" cy="327.4" r="1.7"/><circle cx="420.6" cy="339.1" r="1.7"/><circle cx="427.9" cy="352.8" r="1.7"/><circle cx="436.0" cy="353.2" r="1.7"/><circle cx="443.5" cy="352.8" r="1.7"/><circle cx="451.5" cy="355.7" r="1.7"/><circle cx="459.2" cy="356.6" r="1.7"/><circle cx="466.9" cy="356.8" r="1.7"/><circle cx="474.3" cy="345.4" r="1.7"/><circle cx="481.9" cy="348.8" r="1.7"/><circle cx="489.7" cy="352.8" r="1.7"/><circle cx="497.1" cy="356.2" r="1.7"/><circle cx="505.1" cy="317.1" r="1.7"/><circle cx="512.9" cy="332.2" r="1.7"/><circle cx="520.9" cy="351.3" r="1.7"/><circle cx="528.4" cy="352.0" r="1.7"/><circle cx="536.5" cy="353.2" r="1.7"/><circle cx="543.9" cy="356.0" r="1.7"/><circle cx="551.5" cy="356.5" r="1.7"/><circle cx="559.4" cy="356.5" r="1.7"/><circle cx="566.8" cy="351.8" r="1.7"/><circle cx="574.6" cy="355.0" r="1.7"/><circle cx="582.4" cy="339.1" r="1.7"/><circle cx="590.3" cy="324.9" r="1.7"/><circle cx="598.1" cy="247.1" r="1.7"/><circle cx="605.2" cy="312.7" r="1.7"/><circle cx="613.5" cy="323.0" r="1.7"/><circle cx="620.9" cy="350.9" r="1.7"/><circle cx="629.0" cy="330.7" r="1.7"/><circle cx="636.6" cy="348.8" r="1.7"/></g>
</g>
<text class="tt" x="38.6" y="23.8" textLength="39.3" lengthAdjust="spacingAndGlyphs">Flow (m</text>
<text class="tt" x="77.9" y="20.3" style="font-size:6px">3</text>
<text class="tt" x="81.4" y="23.8" textLength="12.9" lengthAdjust="spacingAndGlyphs">/s)</text>
<path class="o" style="stroke-width:1.25" d="M45.1 41.3H66.9"/>
<circle class="m" cx="56.0" cy="41.3" r="1.45"/>
<path class="o" style="stroke-width:1.25" d="M45.1 53.7h3.9M53.8 53.7h4.8M62.5 53.7h4.4"/>
<circle class="m" cx="56.0" cy="53.7" r="1.55"/>
<text class="lg" x="69.0" y="44.0" textLength="40.0" lengthAdjust="spacingAndGlyphs">observation</text>
<text class="lg" x="69.0" y="56.5" textLength="35.0" lengthAdjust="spacingAndGlyphs">simulation</text>
<text class="tt" x="375.3" y="21.2" textLength="46" lengthAdjust="spacingAndGlyphs">sediment</text>
<text class="tt" x="422.3" y="21.2" style="font-weight:500">（</text>
<text class="tt" x="434" y="21.2" textLength="12.3" lengthAdjust="spacingAndGlyphs">10</text>
<text class="tt" x="446.4" y="17.9" style="font-size:6.4px">4</text>
<text class="tt" x="450.4" y="21.2">t</text>
<text class="tt" x="456.3" y="21.2" style="font-weight:500">）</text>
<path class="o" style="stroke-width:1.25" d="M381.9 35.5H403.6"/>
<circle class="m" cx="392.8" cy="35.5" r="1.45"/>
<path class="o" style="stroke-width:1.25" d="M381.9 48.0h3.9M390.6 48.0h4.8M399.3 48.0h4.3"/>
<circle class="m" cx="392.8" cy="48.0" r="1.55"/>
<text class="lg" x="406.0" y="38.2" textLength="40.2" lengthAdjust="spacingAndGlyphs">observation</text>
<text class="lg" x="406.0" y="50.8" textLength="35.8" lengthAdjust="spacingAndGlyphs">simulation</text>
<text class="tt" x="40.9" y="217" textLength="26.6" lengthAdjust="spacingAndGlyphs">TN (t)</text>
<path class="o" style="stroke-width:1.25" d="M43.0 228.7H64.5"/>
<circle class="m" cx="53.8" cy="228.7" r="1.45"/>
<path class="o" style="stroke-width:1.25" d="M43.0 240.5h3.9M51.6 240.5h4.7M60.2 240.5h4.3"/>
<circle class="m" cx="53.8" cy="240.5" r="1.55"/>
<text class="lg" x="66.5" y="231.4" textLength="39.6" lengthAdjust="spacingAndGlyphs">observation</text>
<text class="lg" x="66.5" y="243.2" textLength="34.3" lengthAdjust="spacingAndGlyphs">simulation</text>
<text class="tt" x="381.5" y="213.5" textLength="26" lengthAdjust="spacingAndGlyphs">TP (t)</text>
<path class="o" style="stroke-width:1.25" d="M386.9 227.3H408.6"/>
<circle class="m" cx="397.8" cy="227.3" r="1.45"/>
<path class="o" style="stroke-width:1.25" d="M386.9 240.5h3.9M395.6 240.5h4.8M404.3 240.5h4.3"/>
<circle class="m" cx="397.8" cy="240.5" r="1.55"/>
<text class="lg" x="412.0" y="230.1" textLength="41.5" lengthAdjust="spacingAndGlyphs">observation</text>
<text class="lg" x="412.0" y="243.2" textLength="36.4" lengthAdjust="spacingAndGlyphs">simulation</text>
</svg>
</body></html>
